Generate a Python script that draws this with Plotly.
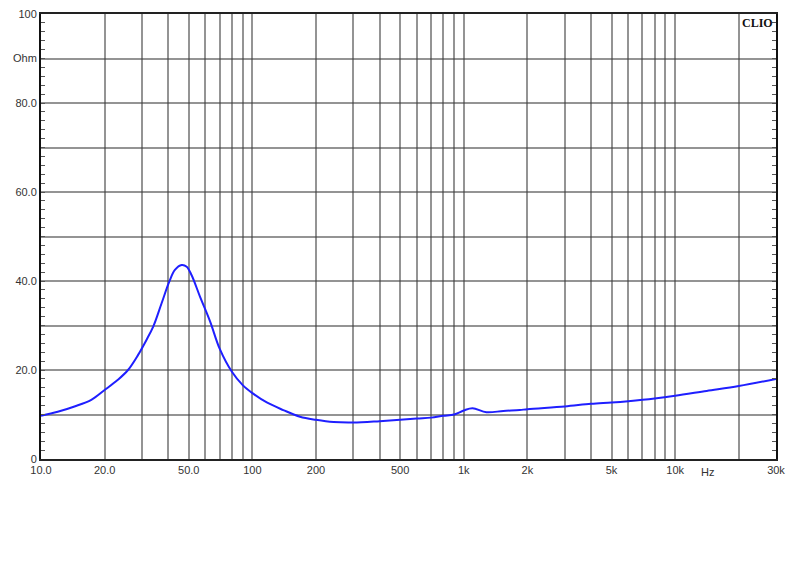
import plotly.graph_objects as go
import math

# Impedance curve (Hz, Ohm)
freq = [10, 12, 14.4, 17.3, 20, 23.1, 25.8, 28.8, 31.5, 34, 37.2, 40.4, 43, 46.3, 48.9, 51.6,
        56.5, 63, 70, 80, 90, 100, 117, 140, 168, 200, 242, 300, 400, 500, 600, 700, 800,
        900, 1000, 1100, 1280, 1540, 1840, 2000, 3000, 4000, 5000, 6000, 8000, 10000,
        14100, 20000, 30000]
ohm = [9.7, 10.6, 11.8, 13.3, 15.5, 17.8, 20.0, 23.4, 26.7, 29.8, 35.0, 39.8, 42.5, 43.6, 43.2, 41.3,
       36.5, 31.0, 24.8, 19.6, 16.6, 14.8, 12.7, 11.0, 9.5, 8.8, 8.3, 8.2, 8.5, 8.8, 9.1, 9.3, 9.7,
       10.0, 10.9, 11.4, 10.5, 10.8, 11.0, 11.2, 11.8, 12.4, 12.7, 13.0, 13.6, 14.2,
       15.3, 16.4, 18.0]

x_grid = [20, 30, 40, 50, 60, 70, 80, 90, 100, 200, 300, 400, 500, 600, 700, 800, 900,
          1000, 2000, 3000, 4000, 5000, 6000, 7000, 8000, 9000, 10000, 20000, 30000]
x_labels = {10: "10.0", 20: "20.0", 50: "50.0", 100: "100", 200: "200", 500: "500",
            1000: "1k", 2000: "2k", 5000: "5k", 10000: "10k", 30000: "30k"}
y_vals = [0, 10, 20, 30, 40, 50, 60, 70, 80, 90, 100]
y_text = ["0", "", "20.0", "", "40.0", "", "60.0", "", "80.0", "Ohm", "100"]

xt = [10] + x_grid
xtext = [x_labels.get(v, "") for v in xt]

fig = go.Figure()
fig.add_trace(go.Scatter(x=freq, y=ohm, mode="lines",
                         line=dict(color="#1f1fff", width=2, shape="spline", smoothing=1.0),
                         showlegend=False, hoverinfo="skip"))

fig.update_layout(
    width=800, height=573,
    margin=dict(l=33, r=32, t=6, b=122),
    paper_bgcolor="white", plot_bgcolor="white",
    font=dict(family="Liberation Sans, Arial, sans-serif", size=11, color="#333333"),
)
fig.update_xaxes(type="log", range=[1, math.log10(30000)], automargin=False,
                 tickvals=xt, ticktext=xtext, ticks="",
                 showgrid=True, gridcolor="rgba(60,60,60,0.55)", gridwidth=1.5,
                 showline=True, linecolor="#222222", linewidth=2, mirror=True,
                 zeroline=False, tickfont=dict(size=11, color="#333333"),
                 ticklabeloverflow="allow")
fig.update_yaxes(range=[0, 100], tickvals=y_vals, ticktext=y_text, automargin=False,
                 ticks="inside", ticklen=4, tickcolor="#555555",
                 minor=dict(dtick=2, ticks="inside", ticklen=4, tickcolor="#555555", showgrid=False),
                 showgrid=True, gridcolor="rgba(60,60,60,0.55)", gridwidth=1.5,
                 showline=True, linecolor="#111111", linewidth=2, mirror="allticks",
                 zeroline=False, tickfont=dict(size=11, color="#333333"),
                 ticklabeloverflow="allow")

fig.add_annotation(x=1, y=1, xref="paper", yref="paper", text="<b>CLIO</b>",
                   showarrow=False, xanchor="right", yanchor="top", xshift=-1, yshift=0,
                   font=dict(family="Liberation Serif, DejaVu Serif, serif", size=12, color="#111111"))
fig.add_annotation(x=math.log10(14300), y=0, xref="x", yref="paper", text="Hz",
                   showarrow=False, yanchor="top", yshift=-5,
                   font=dict(size=11, color="#333333"))

fig.write_html("out.html")
